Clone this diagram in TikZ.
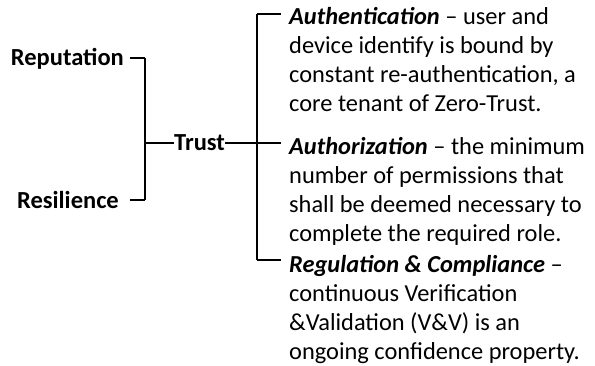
\documentclass[tikz,border=0pt]{standalone}
\usepackage{fontspec}
\setmainfont{Carlito}
\usepackage{tikz}

\begin{document}
\begin{tikzpicture}[x=1pt,y=-1pt,
    term/.style={font=\fontsize{24.5}{29}\selectfont\bfseries, inner sep=0pt},
    note/.style={font=\fontsize{24.4}{29}\selectfont, align=left, anchor=north west, inner sep=0pt},
    tick/.style={line width=1.3pt},
    bar/.style={line width=2.3pt}]
  \useasboundingbox (0,0) rectangle (595,366);

  \node[term, anchor=east] (rep) at (124,59) {Reputation};
  \node[term, anchor=east] (res) at (119,200) {Resilience};
  \node[term, anchor=west] (trust) at (174,143) {Trust};

  % left bracket
  \coordinate (lt) at (145,58);
  \coordinate (lb) at (145,200);
  \coordinate (lm) at (145,143);
  \draw[bar] (lt) -- (lb);
  \draw[tick] ([xshift=6pt]rep.east |- lt) -- (lt);
  \draw[tick] ([xshift=11pt]res.east |- lb) -- (lb);
  \draw[tick] (lm) -- (trust.west);

  % right bracket
  \coordinate (rt) at (257,14);
  \coordinate (rb) at (257,260);
  \coordinate (a1) at (281,14);
  \coordinate (a2) at (281,143);
  \coordinate (a3) at (281,260);
  \draw[bar] (rt) -- (rb);
  \draw[tick] (rt) -- (a1);
  \draw[tick] (trust.east) -- (a2);
  \draw[tick] (rb) -- (a3);

  \node[note] (authn) at (289,7) {\textbf{\textit{Authentication}} -- user and\\
    device identify is bound by\\
    constant re-authentication, a\\
    core tenant of Zero-Trust.};
  \node[note] (authz) at (289,137.5) {\textbf{\textit{Authorization}} -- the minimum\\
    number of permissions that\\
    shall be deemed necessary to\\
    complete the required role.};
  \node[note] (regc) at (289,255.5) {\textbf{\textit{Regulation \& Compliance}} --\\
    continuous Verification\\
    \&Validation (V\&V) is an\\
    ongoing confidence property.};
\end{tikzpicture}
\end{document}
